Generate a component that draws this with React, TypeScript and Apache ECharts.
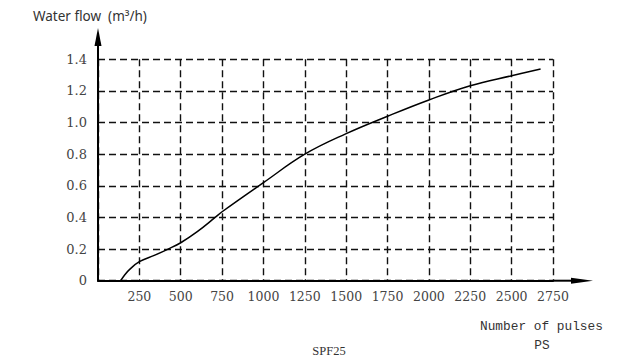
import React, { useEffect, useRef } from "react";
import * as echarts from "echarts";

const pulses = [137, 160, 190, 250, 340, 424, 500, 600, 708, 750, 1000, 1250, 1500, 1750, 2000, 2250, 2500, 2675];
const flow = [0, 0.035, 0.07, 0.12, 0.16, 0.2, 0.24, 0.31, 0.4, 0.436, 0.62, 0.8, 0.93, 1.04, 1.143, 1.233, 1.296, 1.338];
const xTicks = [250, 500, 750, 1000, 1250, 1500, 1750, 2000, 2250, 2500, 2750];
const yTicks = ["0", "0.2", "0.4", "0.6", "0.8", "1.0", "1.2", "1.4"];

const yTitle = "Water flow  (m³/h)";
const xTitle1 = "Number of pulses";
const xTitle2 = "PS";
const caption = "SPF25";

export default function App() {
  const ref = useRef<HTMLDivElement>(null);
  useEffect(() => {
    if (!ref.current) return;
    const chart = echarts.init(ref.current, null, { renderer: "svg" });
    const serif = "'DejaVu Serif', 'Liberation Serif', serif";
    const split = { show: true, lineStyle: { color: "#111", type: [7, 4] as any, width: 1.4 } };
    chart.setOption({
      animation: false,
      grid: { left: 98, right: 82, top: 59.3, bottom: 80.3 },
      xAxis: {
        type: "value",
        min: 0,
        max: 2750,
        interval: 250,
        axisLine: { show: true, onZero: false, lineStyle: { color: "#000", width: 2 } },
        axisTick: { show: false },
        splitLine: split,
        axisLabel: {
          margin: 9,
          color: "#444",
          fontFamily: serif,
          fontSize: 12.5,
          formatter: (v: number) => (xTicks.includes(v) ? String(v) : ""),
        },
      },
      yAxis: {
        type: "value",
        min: 0,
        max: 1.4,
        interval: 0.2,
        axisLine: { show: true, lineStyle: { color: "#000", width: 2 } },
        axisTick: { show: false },
        splitLine: split,
        axisLabel: {
          margin: 11,
          color: "#444",
          fontFamily: serif,
          fontSize: 13,
          formatter: (v: number) => yTicks[Math.round(v / 0.2)] ?? "",
        },
      },
      series: [
        {
          type: "line",
          data: pulses.map((p, i) => [p, flow[i]]),
          smooth: 0.4,
          showSymbol: false,
          lineStyle: { color: "#000", width: 1.5 },
        },
      ],
    });
    const o = chart.convertToPixel({ gridIndex: 0 }, [0, 0]) as number[];
    const xe = chart.convertToPixel({ gridIndex: 0 }, [2750, 1.4]) as number[];
    const x0 = o[0], y0 = o[1];
    chart.setOption({
      graphic: [
        { type: "line", shape: { x1: x0, y1: xe[1], x2: x0, y2: 42 }, style: { stroke: "#000", lineWidth: 2 } },
        { type: "polygon", shape: { points: [[x0, 28], [x0 - 3.5, 46], [x0 + 3.5, 46]] }, style: { fill: "#000" } },
        { type: "line", shape: { x1: xe[0], y1: y0, x2: 578, y2: y0 }, style: { stroke: "#000", lineWidth: 2 } },
        { type: "polygon", shape: { points: [[593, y0], [571, y0 - 3], [571, y0 + 3]] }, style: { fill: "#000" } },
        {
          type: "text",
          x: 33,
          y: 16,
          style: { text: yTitle, fill: "#333", font: "13.5px 'Noto Sans', sans-serif", verticalAlign: "middle" },
        },
        {
          type: "text",
          x: 480,
          y: 326.5,
          style: { text: xTitle1, fill: "#333", font: "12.8px 'Liberation Mono', monospace", verticalAlign: "middle" },
        },
        {
          type: "text",
          x: 542,
          y: 345,
          style: { text: xTitle2, fill: "#333", font: "12.8px 'Liberation Mono', monospace", align: "center", verticalAlign: "middle" },
        },
        {
          type: "text",
          x: 329,
          y: 351,
          style: { text: caption, fill: "#333", font: "12.5px 'Liberation Serif', serif", align: "center", verticalAlign: "middle" },
        },
      ],
    });
    return () => chart.dispose();
  }, []);
  return <div ref={ref} style={{ width: 635, height: 361, position: "absolute", left: 0, top: 0 }} />;
}
